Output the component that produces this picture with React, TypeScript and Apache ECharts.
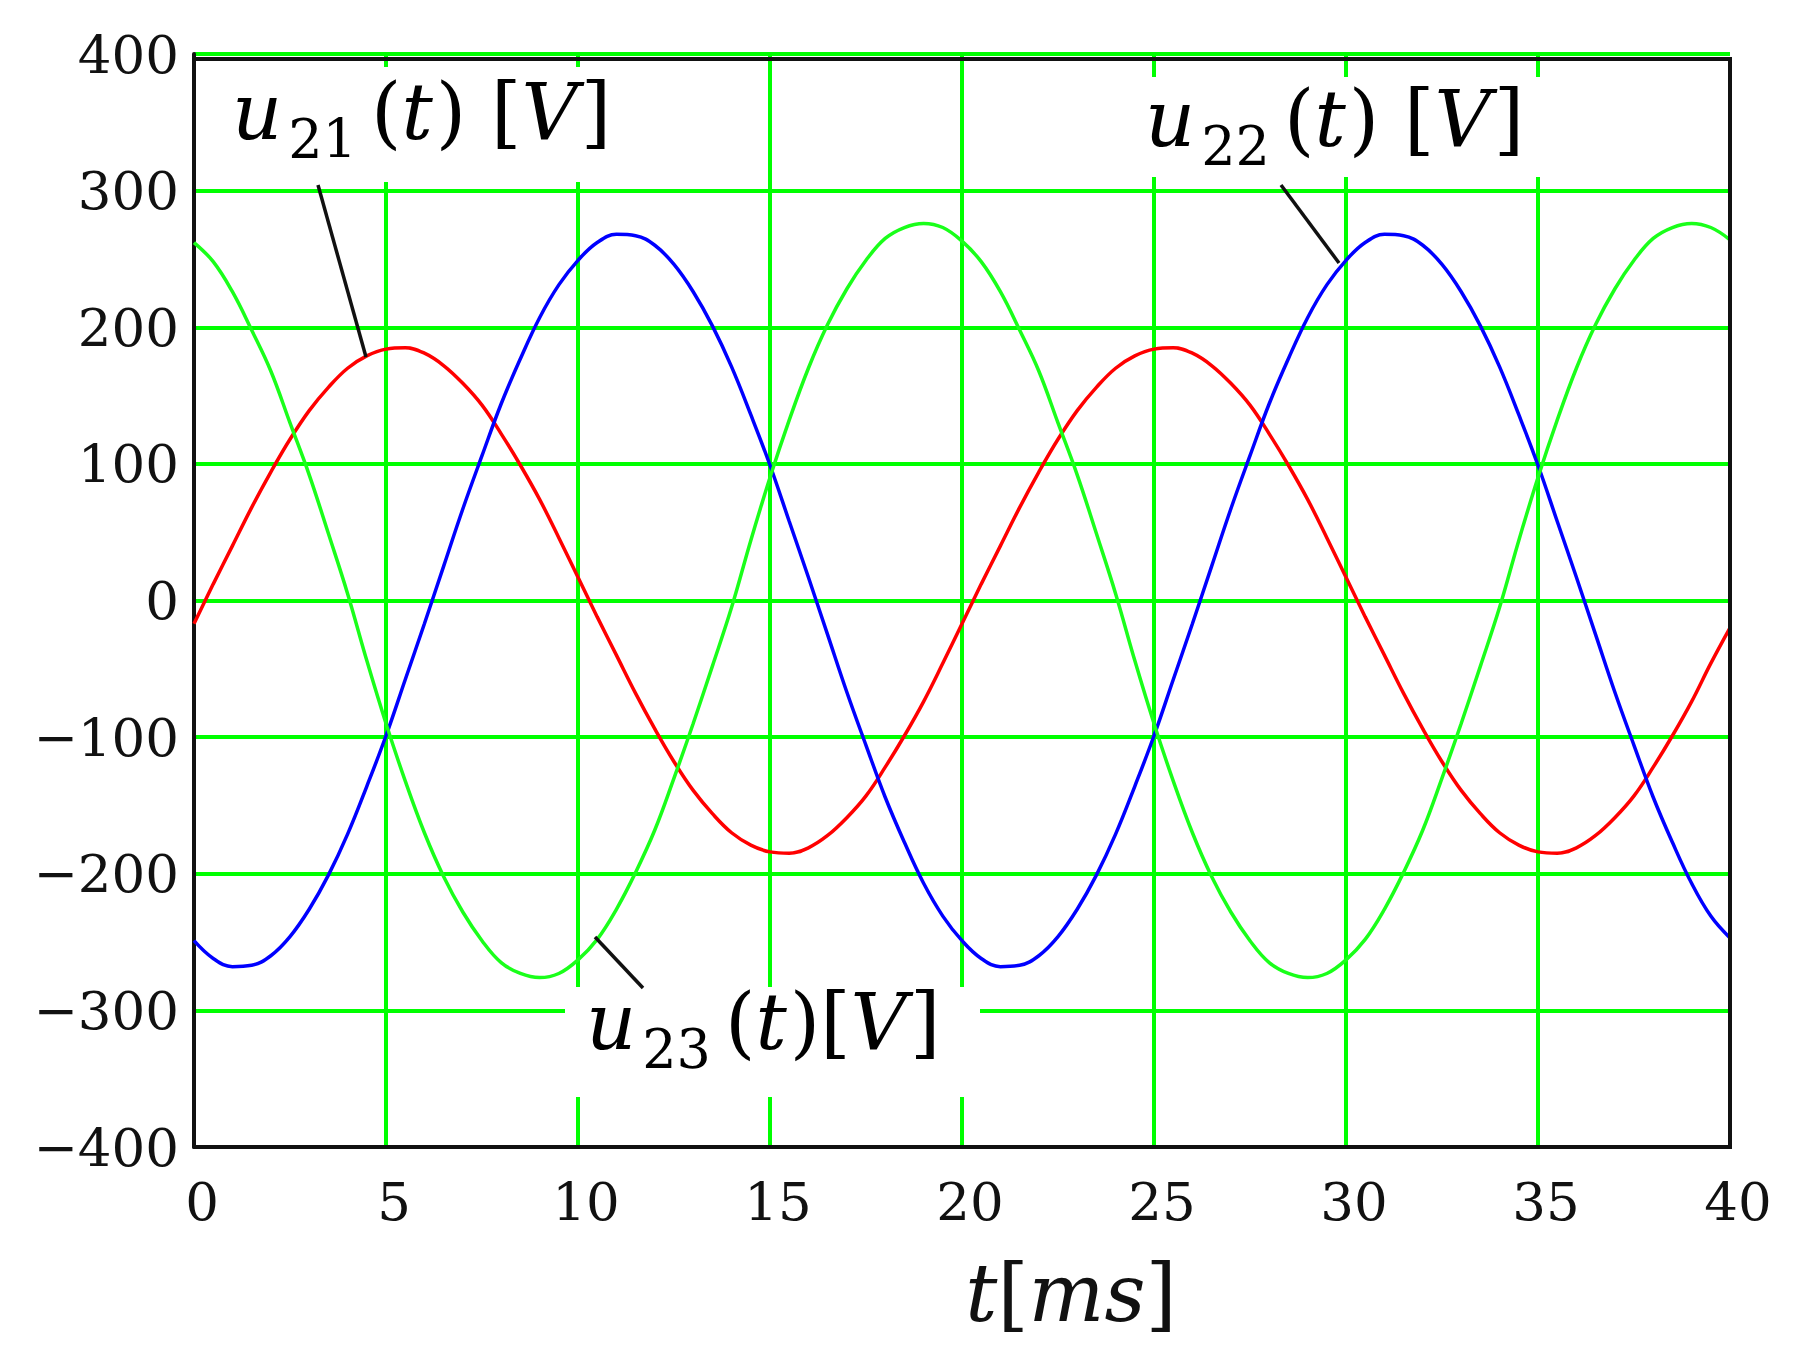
import React, { useEffect, useRef } from "react";
import * as echarts from "echarts";

// ---- data (t in ms, step 0.5 ms; voltages in V) ----
const timeMs = [
  0, 0.5, 1, 1.5, 2, 2.5, 3, 3.5, 4, 4.5, 5, 5.5, 6, 6.5, 7, 7.5, 8, 8.5, 9, 9.5,
  10, 10.5, 11, 11.5, 12, 12.5, 13, 13.5, 14, 14.5, 15, 15.5, 16, 16.5, 17, 17.5, 18, 18.5, 19, 19.5,
  20, 20.5, 21, 21.5, 22, 22.5, 23, 23.5, 24, 24.5, 25, 25.5, 26, 26.5, 27, 27.5, 28, 28.5, 29, 29.5,
  30, 30.5, 31, 31.5, 32, 32.5, 33, 33.5, 34, 34.5, 35, 35.5, 36, 36.5, 37, 37.5, 38, 38.5, 39, 39.5,
  40,
];
const u21 = [
  -17, 12, 40, 68, 94, 118, 139, 156, 170, 179, 184, 185, 181, 172, 159, 143, 122, 99, 74, 46,
  17, -12, -40, -68, -94, -118, -139, -156, -170, -179, -184, -185, -181, -172, -159, -143, -122, -99, -74, -46,
  -17, 12, 40, 68, 94, 118, 139, 156, 170, 179, 184, 185, 181, 172, 159, 143, 122, 99, 74, 46,
  17, -12, -40, -68, -94, -118, -139, -156, -170, -179, -184, -185, -181, -172, -159, -143, -122, -99, -74, -46,
  -20,
];
const u22 = [
  -249, -262, -268, -267, -260, -246, -226, -201, -171, -136, -99, -58, -17, 25, 67, 106, 144, 177, 207, 231,
  249, 262, 268, 267, 260, 246, 226, 201, 171, 136, 99, 58, 17, -25, -67, -106, -144, -177, -207, -231,
  -249, -262, -268, -267, -260, -246, -226, -201, -171, -136, -99, -58, -17, 25, 67, 106, 144, 177, 207, 231,
  249, 262, 268, 267, 260, 246, 226, 201, 171, 136, 99, 58, 17, -25, -67, -106, -144, -177, -207, -231,
  -247,
];
const u23 = [
  262, 248, 226, 198, 168, 130, 92, 49, 5, -44, -90, -132, -170, -202, -228, -249, -265, -273, -276, -273,
  -263, -248, -226, -199, -168, -130, -90, -48, -5, 44, 90, 132, 170, 202, 228, 249, 265, 273, 276, 273,
  263, 248, 226, 198, 168, 130, 92, 49, 5, -44, -90, -132, -170, -202, -228, -249, -265, -273, -276, -273,
  -263, -248, -226, -199, -168, -130, -90, -48, -5, 44, 90, 132, 170, 202, 228, 249, 265, 273, 276, 273,
  264,
];
const seriesNames = ["u21(t) [V]", "u22(t) [V]", "u23(t)[V]"];
const seriesColors = ["#ff0000", "#0000ff", "#1aff1a"];
const subscripts = ["21", "22", "23"];

// ---- layout / style ----
const GREEN = "#00ff00";
const SERIF = '"DejaVu Serif", "Liberation Serif", serif';
const F = 78; // main math font size
const S = 54; // subscript font size
const SUB_PAD = 55; // moves subscripts down

const mathRich = {
  u: { fontFamily: SERIF, fontStyle: "italic", fontSize: F, color: "#000", padding: [0, 6, 0, 0] },
  s: { fontFamily: SERIF, fontSize: S, color: "#000", padding: [SUB_PAD, 14, 0, 0] },
  p: { fontFamily: SERIF, fontSize: F, color: "#000" },
  i: { fontFamily: SERIF, fontStyle: "italic", fontSize: F, color: "#000", padding: [0, 3, 0, 0] },
};

const labelLayout = [
  { x: 232, y: 112, box: [225, 67, 405, 115], lead: [318, 185, 366, 357], space: " " },
  { x: 1145, y: 119, box: [1140, 77, 410, 100], lead: [1281, 185, 1339, 263], space: " " },
  { x: 586, y: 1022, box: [565, 987, 415, 110], lead: [595, 937, 643, 988], space: "" },
];

function buildGraphic() {
  const els: any[] = [];
  labelLayout.forEach((l, k) => {
    els.push({
      type: "rect",
      z: 1,
      shape: { x: l.box[0], y: l.box[1], width: l.box[2], height: l.box[3] },
      style: { fill: "#fff" },
    });
    els.push({
      type: "line",
      z: 5,
      shape: { x1: l.lead[0], y1: l.lead[1], x2: l.lead[2], y2: l.lead[3] },
      style: { stroke: "#111", lineWidth: 3.5 },
    });
    els.push({
      type: "text",
      z: 6,
      x: l.x,
      y: l.y,
      style: {
        text: `{u|u}{s|${subscripts[k]}}{p|(}{i|t}{p|)${l.space}[}{i|V}{p|]}`,
        rich: mathRich,
        align: "left",
        verticalAlign: "middle",
      },
    });
  });
  // top and right plot border
  els.push({
    type: "polyline",
    z: 10,
    shape: { points: [[194, 59], [1730, 59], [1730, 1149]] },
    style: { stroke: "#111", lineWidth: 4, fill: null },
  });
  return els;
}

const minusFmt = (v: number) => (v < 0 ? `\u2212${-v}` : `${v}`);

export default function App() {
  const ref = useRef<HTMLDivElement>(null);
  useEffect(() => {
    const chart = echarts.init(ref.current!, null, { renderer: "svg" });
    const dataSets = [u21, u22, u23];
    chart.setOption({
      animation: false,
      backgroundColor: "#fff",
      grid: { left: 194, right: 78, top: 54, bottom: 219, containLabel: false },
      xAxis: {
        type: "value",
        min: 0,
        max: 40,
        interval: 5,
        axisLine: { show: true, onZero: false, lineStyle: { color: "#111", width: 4 } },
        axisTick: { show: false },
        splitLine: { show: true, showMinLine: false, showMaxLine: false, lineStyle: { color: GREEN, width: 4 } },
        axisLabel: {
          fontFamily: SERIF,
          fontSize: 53,
          color: "#111",
          margin: 28,
          padding: [0, 0, 0, 16],
        },
        name: "{i|t}{p|[}{i|ms}{p|]}",
        nameLocation: "middle",
        nameGap: 106,
        nameTextStyle: {
          padding: [0, 0, 0, 218],
          rich: {
            p: { fontFamily: SERIF, fontSize: 80, color: "#111" },
            i: { fontFamily: SERIF, fontStyle: "italic", fontSize: 80, color: "#111" },
          },
        },
      },
      yAxis: {
        type: "value",
        min: -400,
        max: 400,
        interval: 100,
        axisLine: { show: true, onZero: false, lineStyle: { color: "#111", width: 4 } },
        axisTick: { show: false },
        splitLine: { show: true, showMinLine: false, lineStyle: { color: GREEN, width: 4 } },
        axisLabel: {
          fontFamily: SERIF,
          fontSize: 53,
          color: "#111",
          margin: 15,
          padding: [14, 0, 0, 0],
          formatter: minusFmt,
        },
      },
      series: dataSets.map((d, k) => ({
        name: seriesNames[k],
        type: "line",
        z: 2,
        smooth: 0.4,
        showSymbol: false,
        symbol: "none",
        lineStyle: { color: seriesColors[k], width: 3.5 },
        data: timeMs.map((t, i) => [t, d[i]]),
      })),
      graphic: buildGraphic(),
    });
    return () => chart.dispose();
  }, []);
  return (
    <div
      ref={ref}
      style={{ position: "absolute", left: 0, top: 0, width: 1808, height: 1366, background: "#fff" }}
    />
  );
}
